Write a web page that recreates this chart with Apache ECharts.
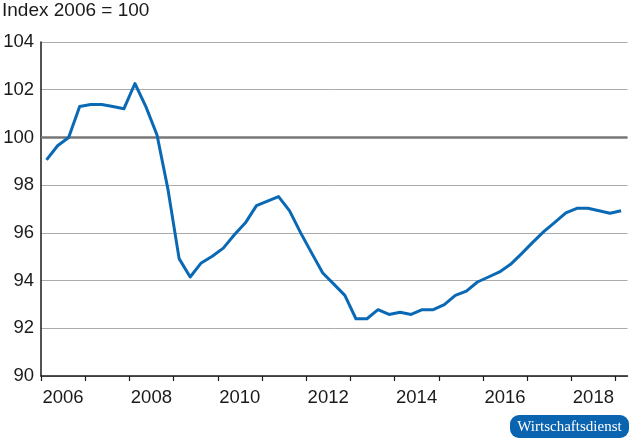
<!DOCTYPE html>
<html>
<head>
<meta charset="utf-8">
<script src="https://cdn.jsdelivr.net/npm/echarts@6/dist/echarts.min.js"></script>
<style>
html,body{margin:0;padding:0;background:#fff;}
#c{width:630px;height:441px;}
</style>
</head>
<body>
<div id="c"></div>
<script>
// Quarterly index, 2006 Q1 .. 2019 Q1 (2006 = 100)
const startYear = 2006;
const values = [
  99.06, 99.65, 100.0, 101.3,
  101.38, 101.38, 101.3, 101.2,
  102.26, 101.28, 100.1, 97.8,
  94.92, 94.15, 94.74, 95.02,
  95.36, 95.92, 96.42, 97.14,
  97.33, 97.52, 96.92, 96.0,
  95.15, 94.32, 93.85, 93.38,
  92.4, 92.4, 92.78, 92.58,
  92.67, 92.58, 92.78, 92.78,
  92.99, 93.38, 93.56, 93.94,
  94.15, 94.36, 94.68, 95.13,
  95.6, 96.05, 96.44, 96.84,
  97.03, 97.03, 96.93, 96.82,
  96.93
];
const yTicks = [90, 92, 94, 96, 98, 100, 102, 104];
const yearLabels = [2006, 2008, 2010, 2012, 2014, 2016, 2018];
const baseline = 100;
const unitText = 'Index 2006 = 100';
const sourceText = 'Wirtschaftsdienst';

// quarter midpoints on the time axis
const seriesData = values.map((v, i) => [startYear + Math.floor(i / 4) + (i % 4) * 0.25 + 0.125, v]);

const FONT = '"Liberation Sans", Arial, Helvetica, sans-serif';
const BLUE = '#0a69b4';

const chart = echarts.init(document.getElementById('c'), null, {renderer: 'canvas'});
chart.setOption({
  animation: false,
  grid: [
    {left: 41, right: 2.5, top: 42, bottom: 65, containLabel: false},
    {left: 41, right: 14.4, top: 42, bottom: 65, containLabel: false}
  ],
  graphic: [
    {
      type: 'text', left: 2, top: 1,
      style: {text: unitText, fill: '#1a1a1a', font: '19px ' + FONT}
    },
    {
      type: 'group', left: 510, top: 415,
      children: [
        {type: 'rect', shape: {x: 0, y: 0, width: 119, height: 23, r: 9}, style: {fill: '#0b64af'}},
        {type: 'text', x: 59.5, y: 12, style: {text: sourceText, fill: '#fff', font: '15px "Liberation Serif", "DejaVu Serif", serif', align: 'center', verticalAlign: 'middle'}}
      ]
    }
  ],
  xAxis: [
    {
      type: 'value', gridIndex: 0, min: 2006, max: 2019.27,
      axisLine: {show: true, onZero: false, lineStyle: {color: '#1a1a1a', width: 1.5}},
      axisTick: {show: false},
      axisLabel: {show: false},
      splitLine: {show: false}
    },
    {
      type: 'value', gridIndex: 1, min: 2006, max: 2019, interval: 1,
      axisLine: {show: false, onZero: false},
      axisTick: {show: true, length: 5, lineStyle: {color: '#1a1a1a', width: 1.2}},
      axisLabel: {
        show: true, margin: 12, color: '#1a1a1a', fontSize: 18.5, fontFamily: FONT,
        padding: [0, 0, 0, 44],
        formatter: v => yearLabels.indexOf(v) >= 0 ? String(v) : ''
      },
      splitLine: {show: false}
    }
  ],
  yAxis: [
    {
      type: 'value', gridIndex: 0, min: 90, max: 104, interval: 2,
      axisLine: {show: true, onZero: false, lineStyle: {color: '#1a1a1a', width: 1.5}},
      axisTick: {show: false},
      axisLabel: {color: '#1a1a1a', fontSize: 18.5, fontFamily: FONT, margin: 7,
        formatter: v => yTicks.indexOf(v) >= 0 ? String(v) : ''},
      splitLine: {show: true, lineStyle: {color: '#ababab', width: 1}}
    },
    {
      type: 'value', gridIndex: 1, min: 90, max: 104, show: false
    }
  ],
  series: [
    {
      type: 'line', xAxisIndex: 0, yAxisIndex: 0, data: [], z: 1, silent: true,
      markLine: {
        silent: true, symbol: ['none', 'none'], label: {show: false},
        lineStyle: {color: '#777777', width: 2.5, type: 'solid'},
        data: [{yAxis: baseline}]
      }
    },
    {
      type: 'line', xAxisIndex: 0, yAxisIndex: 0, z: 5,
      data: seriesData, showSymbol: false, symbol: 'none',
      lineStyle: {color: BLUE, width: 3, join: 'round'}
    }
  ]
});
</script>
</body>
</html>
